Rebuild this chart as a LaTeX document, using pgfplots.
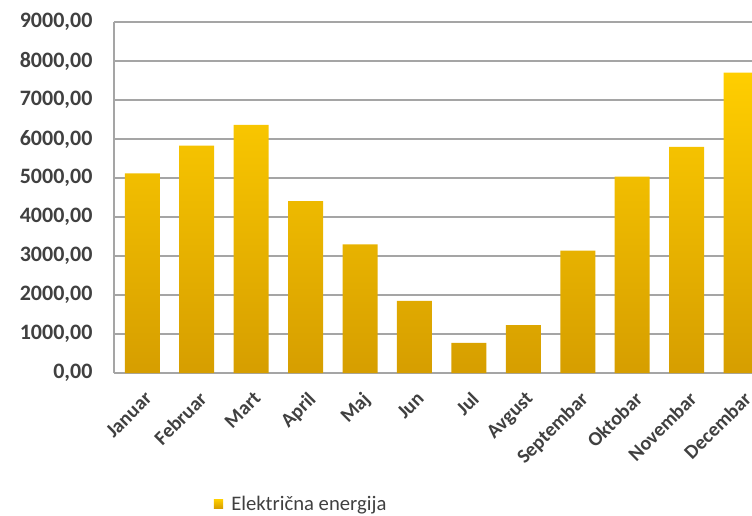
\documentclass[border=0pt]{standalone}
\usepackage{fontspec}
\setmainfont{Carlito}
\usepackage{pgfplots}
\pgfplotsset{compat=1.18}
\definecolor{bartop}{RGB}{255,206,0}
\definecolor{barbot}{RGB}{214,158,0}
\definecolor{gridc}{RGB}{165,165,165}
\definecolor{txt}{RGB}{64,64,64}
\begin{document}
\begin{tikzpicture}
\useasboundingbox (0pt,0pt) rectangle (564pt,386.25pt);
\clip (0pt,0pt) rectangle (564pt,386.25pt);
\begin{axis}[
  at={(85.5pt,106.5pt)}, anchor=south west,
  width=478.5pt, height=263.25pt, scale only axis,
  ymin=0, ymax=9000, ytick={0,1000,...,9000},
  xmin=-0.52, xmax=11.2,
  xtick={0,...,11},
  xticklabels={Januar,Februar,Mart,April,Maj,Jun,Jul,Avgust,Septembar,Oktobar,Novembar,Decembar},
  ybar, bar width=26.25pt,
  ymajorgrids, grid style={gridc, line width=1.1pt},
  axis x line*=bottom, axis y line*=left,
  axis line style={gridc, line width=1.1pt, -},
  major tick length=0pt,
  /pgf/number format/.cd, fixed, fixed zerofill, precision=2, use comma, 1000 sep={}, assume math mode=true,
  /pgfplots/.cd,
  yticklabel style={anchor=east, inner sep=0pt, xshift=-16pt, font=\bfseries\fontsize{16.5}{18}\selectfont, text=txt},
  xticklabel style={yshift=-13pt, xshift=1pt, rotate=45, anchor=north east, inner sep=0pt, font=\bfseries\fontsize{15}{17}\selectfont, text=txt},
  legend style={at={(0.150,-0.373)}, anchor=west, draw=none, fill=none, font=\fontsize{15.5}{17}\selectfont, text=txt},
  legend image code/.code={\fill[top color=bartop,bottom color=barbot] (0pt,-3.4pt) rectangle (6.8pt,3.4pt); \path (6.8pt,0pt) -- (11pt,0pt);},
]
\addplot[draw=none, top color=bartop, bottom color=barbot] coordinates {
(0,5120) (1,5830) (2,6360) (3,4410) (4,3300) (5,1850) (6,775) (7,1225) (8,3135) (9,5035) (10,5795) (11,7700)
};
\addlegendentry{Električna energija}
\end{axis}
\end{tikzpicture}
\end{document}
